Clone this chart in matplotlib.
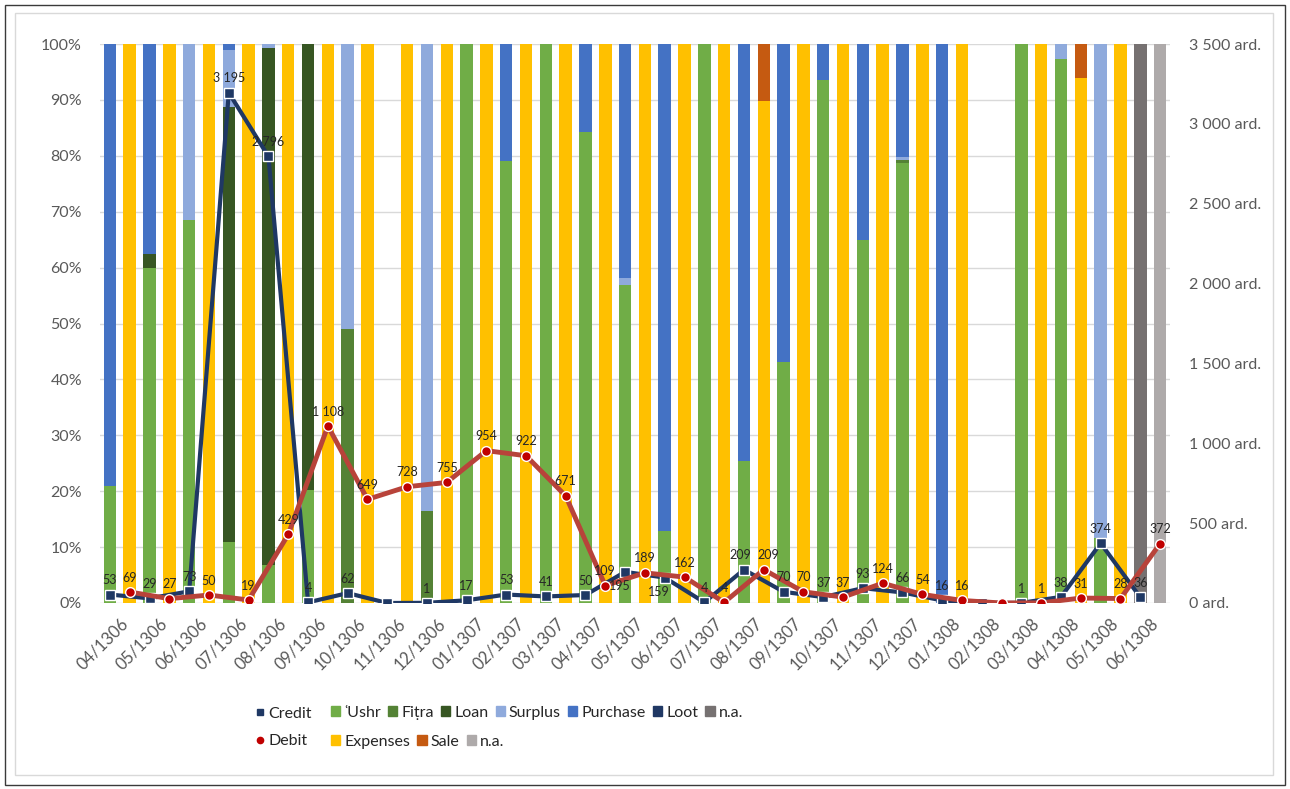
import numpy as np
import matplotlib
matplotlib.use('Agg')
import matplotlib.pyplot as plt
from matplotlib.lines import Line2D
from matplotlib.patches import Patch, Rectangle

plt.rcParams['font.family'] = ['Lato', 'DejaVu Sans']

months = ['04/1306', '05/1306', '06/1306', '07/1306', '08/1306', '09/1306', '10/1306',
          '11/1306', '12/1306', '01/1307', '02/1307', '03/1307', '04/1307', '05/1307',
          '06/1307', '07/1307', '08/1307', '09/1307', '10/1307', '11/1307', '12/1307',
          '01/1308', '02/1308', '03/1308', '04/1308', '05/1308', '06/1308']

# totals in ardabb (right axis)
credit_total = [53, 29, 73, 3195, 2796, 4, 62, 0, 1, 17, 53, 41, 50, 195,
                159, 4, 209, 70, 37, 93, 66, 16, 0, 1, 38, 374, 36]
debit_total = [69, 27, 50, 19, 429, 1108, 649, 728, 755, 954, 922, 671, 109, 189,
               162, 4, 209, 70, 37, 124, 54, 16, 0, 1, 31, 28, 372]

# credit composition (%)
ushr = [21, 60, 68.5, 11, 6.8, 20.2, 0, 0, 0, 100, 79, 100, 84.3, 56.9,
        12.8, 100, 25.4, 43.2, 93.6, 64.9, 78.8, 0, 0, 100, 97.4, 11.6, 0]
fitra = [0, 0, 0, 0, 0, 0, 49, 0, 16.5, 0, 0, 0, 0, 0,
         0, 0, 0, 0, 0, 0, 0.4, 0, 0, 0, 0, 0, 0]
loan = [0, 2.5, 0, 77.8, 92.4, 79.8, 0, 0, 0, 0, 0, 0, 0, 0,
        0, 0, 0, 0, 0, 0, 0, 0, 0, 0, 0, 0, 0]
surplus = [0, 0, 31.5, 10.1, 0.8, 0, 51, 0, 83.5, 0, 0, 0, 0, 1.2,
           0, 0, 0, 0, 0, 0, 0.5, 0, 0, 0, 2.6, 88.4, 0]
purchase = [79, 37.5, 0, 1.1, 0, 0, 0, 0, 0, 0, 21, 0, 15.7, 41.9,
            87.2, 0, 74.6, 56.8, 6.4, 35.1, 20.3, 100, 0, 0, 0, 0, 0]
loot = [0] * 27
na_credit = [0] * 26 + [100]

# debit composition (%)
expenses = [100, 100, 100, 100, 100, 100, 100, 100, 100, 100, 100, 100, 100, 100,
            100, 100, 89.8, 100, 100, 100, 100, 100, 0, 100, 94, 100, 0]
sale = [0] * 16 + [10.2] + [0] * 7 + [6, 0, 0]
na_debit = [0] * 26 + [100]

credit_series = [("ʿUshr", ushr, '#70AD47'), ("Fiṭra", fitra, '#548235'),
                 ("Loan", loan, '#375623'), ("Surplus", surplus, '#8FAADC'),
                 ("Purchase", purchase, '#4472C4'), ("Loot", loot, '#203864'),
                 ("n.a.", na_credit, '#767171')]
debit_series = [("Expenses", expenses, '#FFC000'), ("Sale", sale, '#C55A11'),
                ("n.a.", na_debit, '#AEAAAA')]

W, H = 1290, 789
fig = plt.figure(figsize=(W / 100, H / 100), dpi=100)
ax = fig.add_axes([100 / W, 1 - 603 / H, 1070 / W, 559 / H])

n = len(months)
xc = np.arange(n) * 2
xd = xc + 1
bw = 0.63

bottom = np.zeros(n)
for name, vals, col in credit_series:
    vals = np.array(vals, dtype=float)
    ax.bar(xc, vals, bw, bottom=bottom, color=col, zorder=2)
    bottom += vals
bottom = np.zeros(n)
for name, vals, col in debit_series:
    vals = np.array(vals, dtype=float)
    ax.bar(xd, vals, bw, bottom=bottom, color=col, zorder=2)
    bottom += vals

ax.set_xlim(-0.5, 2 * n - 0.5)
ax.set_ylim(0, 100)
ax.set_yticks(np.arange(0, 101, 10))
ax.set_yticklabels([f"{v}%" for v in range(0, 101, 10)])
ax.set_xticks(xc + 0.5)
ax.set_xticklabels(months, rotation=45, ha='right', rotation_mode='anchor')
ax.tick_params(length=0, labelsize=11.5, colors='#595959')
ax.tick_params(axis='y', pad=13)
ax.tick_params(axis='x', labelsize=12, pad=9)
ax.grid(axis='y', color='#D9D9D9', lw=1, zorder=0)
ax.set_axisbelow(True)
for s in ax.spines.values():
    s.set_visible(False)

ax2 = ax.twinx()
ax2.set_ylim(0, 3500)
ax2.set_yticks(np.arange(0, 3501, 500))
ax2.set_yticklabels([f"{v:,} ard.".replace(',', ' ') for v in range(0, 3501, 500)])
ax2.tick_params(length=0, labelsize=11.5, colors='#595959', pad=14)
for s in ax2.spines.values():
    s.set_visible(False)

ax2.plot(xc, credit_total, color='#1F3864', lw=3, marker='s', ms=6.5,
         mfc='#1F3864', mec='white', mew=1, zorder=3)
ax2.plot(xd, debit_total, color='#B8433A', lw=3.5, marker='o', ms=7,
         mfc='#C00000', mec='white', mew=1, zorder=4)


def fmt(v):
    return f"{v:,}".replace(',', ' ')


# label offsets (points) where Excel moved a label off the default spot
credit_off = {13: (-4, -6), 14: (-4, -6), 16: (-3, 6)}
debit_off = {16: (3, 6)}

for i, (x, v) in enumerate(zip(xc, credit_total)):
    if v == 0:
        continue
    dx, dy = credit_off.get(i, (0, 6))
    ax2.annotate(fmt(v), (x, v), xytext=(dx, dy), textcoords='offset points',
                 ha='center', va='bottom' if dy > 0 else 'top', fontsize=9,
                 color='#262626', zorder=5)
for i, (x, v) in enumerate(zip(xd, debit_total)):
    if v == 0:
        continue
    dx, dy = debit_off.get(i, (0, 6))
    ax2.annotate(fmt(v), (x, v), xytext=(dx, dy), textcoords='offset points',
                 ha='center', va='bottom', fontsize=9, color='#262626', zorder=5)

# legend
lkw = dict(frameon=False, fontsize=11.5, borderpad=0, borderaxespad=0,
           handlelength=0.58, handleheight=0.58, handletextpad=0.25,
           columnspacing=0.45, labelcolor='#262626')
h_cd = [Line2D([], [], ls='none', marker='s', ms=4, color='#1F3864'),
        Line2D([], [], ls='none', marker='o', ms=4.5, color='#C00000')]
fig.legend(h_cd, ['Credit', 'Debit'], loc='center left', ncol=1,
           bbox_to_anchor=(255 / W, 1 - 727.5 / H), labelspacing=0.85, **lkw)
h1 = [Patch(color=c) for _, _, c in credit_series]
fig.legend(h1, [nm for nm, _, _ in credit_series], loc='center left', ncol=7,
           bbox_to_anchor=(331 / W, 1 - 713 / H), **lkw)
h2 = [Patch(color=c) for _, _, c in debit_series]
fig.legend(h2, [nm for nm, _, _ in debit_series], loc='center left', ncol=3,
           bbox_to_anchor=(331 / W, 1 - 742 / H), **lkw)

# chart border
fig.patches.append(Rectangle((5 / W, 4 / H), 1280 / W, 780 / H, transform=fig.transFigure,
                             fill=False, ec='#3A3A3A', lw=1))
fig.patches.append(Rectangle((15 / W, 14 / H), 1258 / W, 762 / H, transform=fig.transFigure,
                             fill=False, ec='#D9D9D9', lw=1))

fig.savefig('out.png', dpi=100)
